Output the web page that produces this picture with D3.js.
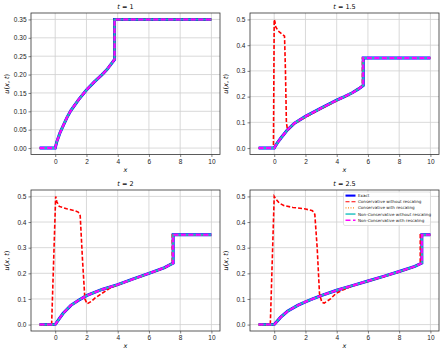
<!DOCTYPE html>
<html>
<head>
<meta charset="utf-8">
<title>u(x,t)</title>
<script src="https://cdnjs.cloudflare.com/ajax/libs/d3/7.8.5/d3.min.js"></script>
<style>
  body { margin: 0; background: #fff; }
  svg { display: block; font-family: "DejaVu Sans", sans-serif; }
  .tick text { font-size: 6.5px; fill: #222; }
  .domain { stroke: #333; stroke-width: 0.8; }
  .tick line { stroke: #333; stroke-width: 0.6; }
</style>
</head>
<body>
<svg width="444" height="355"></svg>
<script>
// times shown in the four panels
var times = [1, 1.5, 2, 2.5];

// exact solution, [x, u]
var exact1 = [[-1,0],[0,0],[0.1,0.017],[0.3,0.041],[0.5,0.06],[0.75,0.083],[1,0.102],[1.5,0.132],[2,0.158],[2.5,0.18],[3,0.2],[3.3,0.213],[3.6,0.23],[3.8,0.241],[3.8,0.35],[10,0.35]];
var exact15 = [[-1,0],[0,0],[0.2,0.02],[0.43,0.039],[0.85,0.071],[1.3,0.097],[2,0.123],[3,0.155],[4,0.186],[4.5,0.2],[5,0.215],[5.4,0.23],[5.7,0.243],[5.7,0.35],[10,0.35]];
var exact2 = [[-1,0],[0,0],[0.25,0.022],[0.51,0.044],[1,0.075],[1.5,0.095],[2,0.113],[3,0.137],[4,0.156],[5,0.178],[6,0.2],[7,0.222],[7.55,0.24],[7.55,0.35],[10,0.35]];
var exact25 = [[-1,0],[0,0],[0.4,0.028],[0.85,0.052],[1.5,0.075],[2,0.089],[2.5,0.101],[3,0.113],[4,0.134],[5,0.152],[6,0.17],[7,0.188],[8,0.207],[9,0.227],[9.45,0.24],[9.45,0.35],[10,0.35]];

// conservative scheme without rescaling
var consNoResc1 = exact1;
var consNoResc15 = [[-1,0],[-0.05,0],[0,0.5],[0.05,0.49],[0.1,0.471],[0.26,0.455],[0.53,0.442],[0.66,0.435],[0.72,0.3],[0.78,0.1],[0.85,0.07],[1.3,0.095],[2,0.12],[3,0.153],[4,0.184],[5,0.214],[5.65,0.242],[5.65,0.35],[10,0.35]];
var consNoResc2 = [[-1,0],[-0.23,0],[0.03,0.5],[0.1,0.48],[0.26,0.461],[0.73,0.452],[1.2,0.445],[1.47,0.439],[1.6,0.425],[1.75,0.25],[1.9,0.1],[2.05,0.081],[2.3,0.09],[2.54,0.103],[3,0.122],[3.5,0.142],[4,0.155],[5,0.177],[6,0.199],[7,0.221],[7.5,0.24],[7.5,0.35],[10,0.35]];
var consNoResc25 = [[-1,0],[-0.25,0],[0,0.5],[0.1,0.49],[0.32,0.474],[0.64,0.464],[1.2,0.457],[2,0.451],[2.45,0.444],[2.6,0.43],[2.75,0.3],[2.9,0.12],[3.05,0.087],[3.2,0.084],[3.6,0.1],[3.94,0.121],[4.5,0.138],[5,0.151],[6,0.169],[7,0.187],[8,0.206],[9,0.226],[9.35,0.238],[9.35,0.35],[10,0.35]];

var seriesNames = ["Exact", "Conservative without rescaling", "Conservative with rescaling",
                   "Non-Conservative without rescaling", "Non-Conservative with rescaling"];

var xTicks = [0, 2, 4, 6, 8, 10];
var yTicksA = [0, 0.05, 0.1, 0.15, 0.2, 0.25, 0.3, 0.35];
var yTicksB = [0, 0.1, 0.2, 0.3, 0.4, 0.5];

var exacts = [exact1, exact15, exact2, exact25];
var consNo = [consNoResc1, consNoResc15, consNoResc2, consNoResc25];

// the rescaled / non-conservative runs lie on the exact curve
var panels = times.map(function(t, i) {
  return {
    t: t,
    lines: [exacts[i], consNo[i], exacts[i], exacts[i], exacts[i]],
    yMax: i == 0 ? 0.35 : 0.5,
    yTicks: i == 0 ? yTicksA : yTicksB,
    fmt: i == 0 ? d3.format(".2f") : d3.format(".1f")
  };
});

var styles = [
  {color: "#0000ff", width: 3, dash: null},
  {color: "#ff0000", width: 1.6, dash: "4,2"},
  {color: "#ff8c1a", width: 1.6, dash: "1,1.5"},
  {color: "#17bfbf", width: 2, dash: null},
  {color: "#ff00ff", width: 2, dash: "5,2.5"}
];

var boxes = [
  {x0: 31, x1: 220, y0: 13, y1: 154.5},
  {x0: 250, x1: 439, y0: 13, y1: 154.5},
  {x0: 31, x1: 220, y0: 190, y1: 331},
  {x0: 250, x1: 439, y0: 190, y1: 331}
];

var svg = d3.select("svg");

panels.forEach(function(p, i) {
  var b = boxes[i];
  var x = d3.scaleLinear().domain([-1.55, 10.55]).range([b.x0, b.x1]);
  var pad = p.yMax * 0.05;
  var y = d3.scaleLinear().domain([-pad, p.yMax + pad]).range([b.y1, b.y0]);
  var g = svg.append("g");

  // grid
  g.selectAll(".gx").data(xTicks).enter().append("line")
    .attr("x1", d => x(d)).attr("x2", d => x(d))
    .attr("y1", b.y0).attr("y2", b.y1)
    .attr("stroke", "#cfcfcf").attr("stroke-width", 0.8);
  g.selectAll(".gy").data(p.yTicks).enter().append("line")
    .attr("x1", b.x0).attr("x2", b.x1)
    .attr("y1", d => y(d)).attr("y2", d => y(d))
    .attr("stroke", "#cfcfcf").attr("stroke-width", 0.8);

  var line = d3.line().x(d => x(d[0])).y(d => y(d[1]));
  var clip = "clip" + i;
  g.append("clipPath").attr("id", clip).append("rect")
    .attr("x", b.x0).attr("y", b.y0).attr("width", b.x1 - b.x0).attr("height", b.y1 - b.y0);

  p.lines.forEach(function(pts, k) {
    var s = styles[k];
    g.append("path").datum(pts)
      .attr("clip-path", "url(#" + clip + ")")
      .attr("d", line)
      .attr("fill", "none")
      .attr("stroke", s.color)
      .attr("stroke-width", s.width)
      .attr("stroke-dasharray", s.dash);
  });

  // axes
  g.append("g").attr("transform", "translate(0," + b.y1 + ")")
    .call(d3.axisBottom(x).tickValues(xTicks).tickSize(2.5).tickPadding(2).tickFormat(d3.format("d")));
  g.append("g").attr("transform", "translate(" + b.x0 + ",0)")
    .call(d3.axisLeft(y).tickValues(p.yTicks).tickSize(2.5).tickPadding(2).tickFormat(p.fmt));
  g.selectAll(".domain").remove();
  g.append("rect").attr("x", b.x0).attr("y", b.y0)
    .attr("width", b.x1 - b.x0).attr("height", b.y1 - b.y0)
    .attr("fill", "none").attr("stroke", "#333").attr("stroke-width", 0.8);

  // title and labels
  var title = g.append("text").attr("x", (b.x0 + b.x1) / 2).attr("y", b.y0 - 4)
    .attr("text-anchor", "middle").attr("font-size", 6.5);
  title.append("tspan").attr("font-style", "italic").text("t");
  title.append("tspan").text(" = " + p.t);

  g.append("text").attr("x", (b.x0 + b.x1) / 2).attr("y", b.y1 + 17)
    .attr("text-anchor", "middle").attr("font-size", 6.5).attr("font-style", "italic").text("x");

  var yl = g.append("text")
    .attr("transform", "translate(" + (b.x0 - 22) + "," + ((b.y0 + b.y1) / 2) + ") rotate(-90)")
    .attr("text-anchor", "middle").attr("font-size", 6.5);
  yl.append("tspan").attr("font-style", "italic").text("u");
  yl.append("tspan").text("(");
  yl.append("tspan").attr("font-style", "italic").text("x");
  yl.append("tspan").text(", ");
  yl.append("tspan").attr("font-style", "italic").text("t");
  yl.append("tspan").text(")");

  // legend in last panel
  if (i == 3) {
    var lg = g.append("g");
    lg.append("rect").attr("x", 343.5).attr("y", 192).attr("width", 87).attr("height", 33.5)
      .attr("rx", 1.5).attr("fill", "#fff").attr("fill-opacity", 0.8)
      .attr("stroke", "#d0d0d0").attr("stroke-width", 0.6);
    seriesNames.forEach(function(name, k) {
      var s = styles[k];
      var yy = 195.6 + k * 6.15;
      lg.append("line").attr("x1", 345.5).attr("x2", 355.5).attr("y1", yy).attr("y2", yy)
        .attr("stroke", s.color).attr("stroke-width", s.width * 0.7)
        .attr("stroke-dasharray", s.dash);
      lg.append("text").attr("x", 358).attr("y", yy + 1.5)
        .attr("font-size", 4.1).attr("fill", "#222").text(name);
    });
  }
});
</script>
</body>
</html>
